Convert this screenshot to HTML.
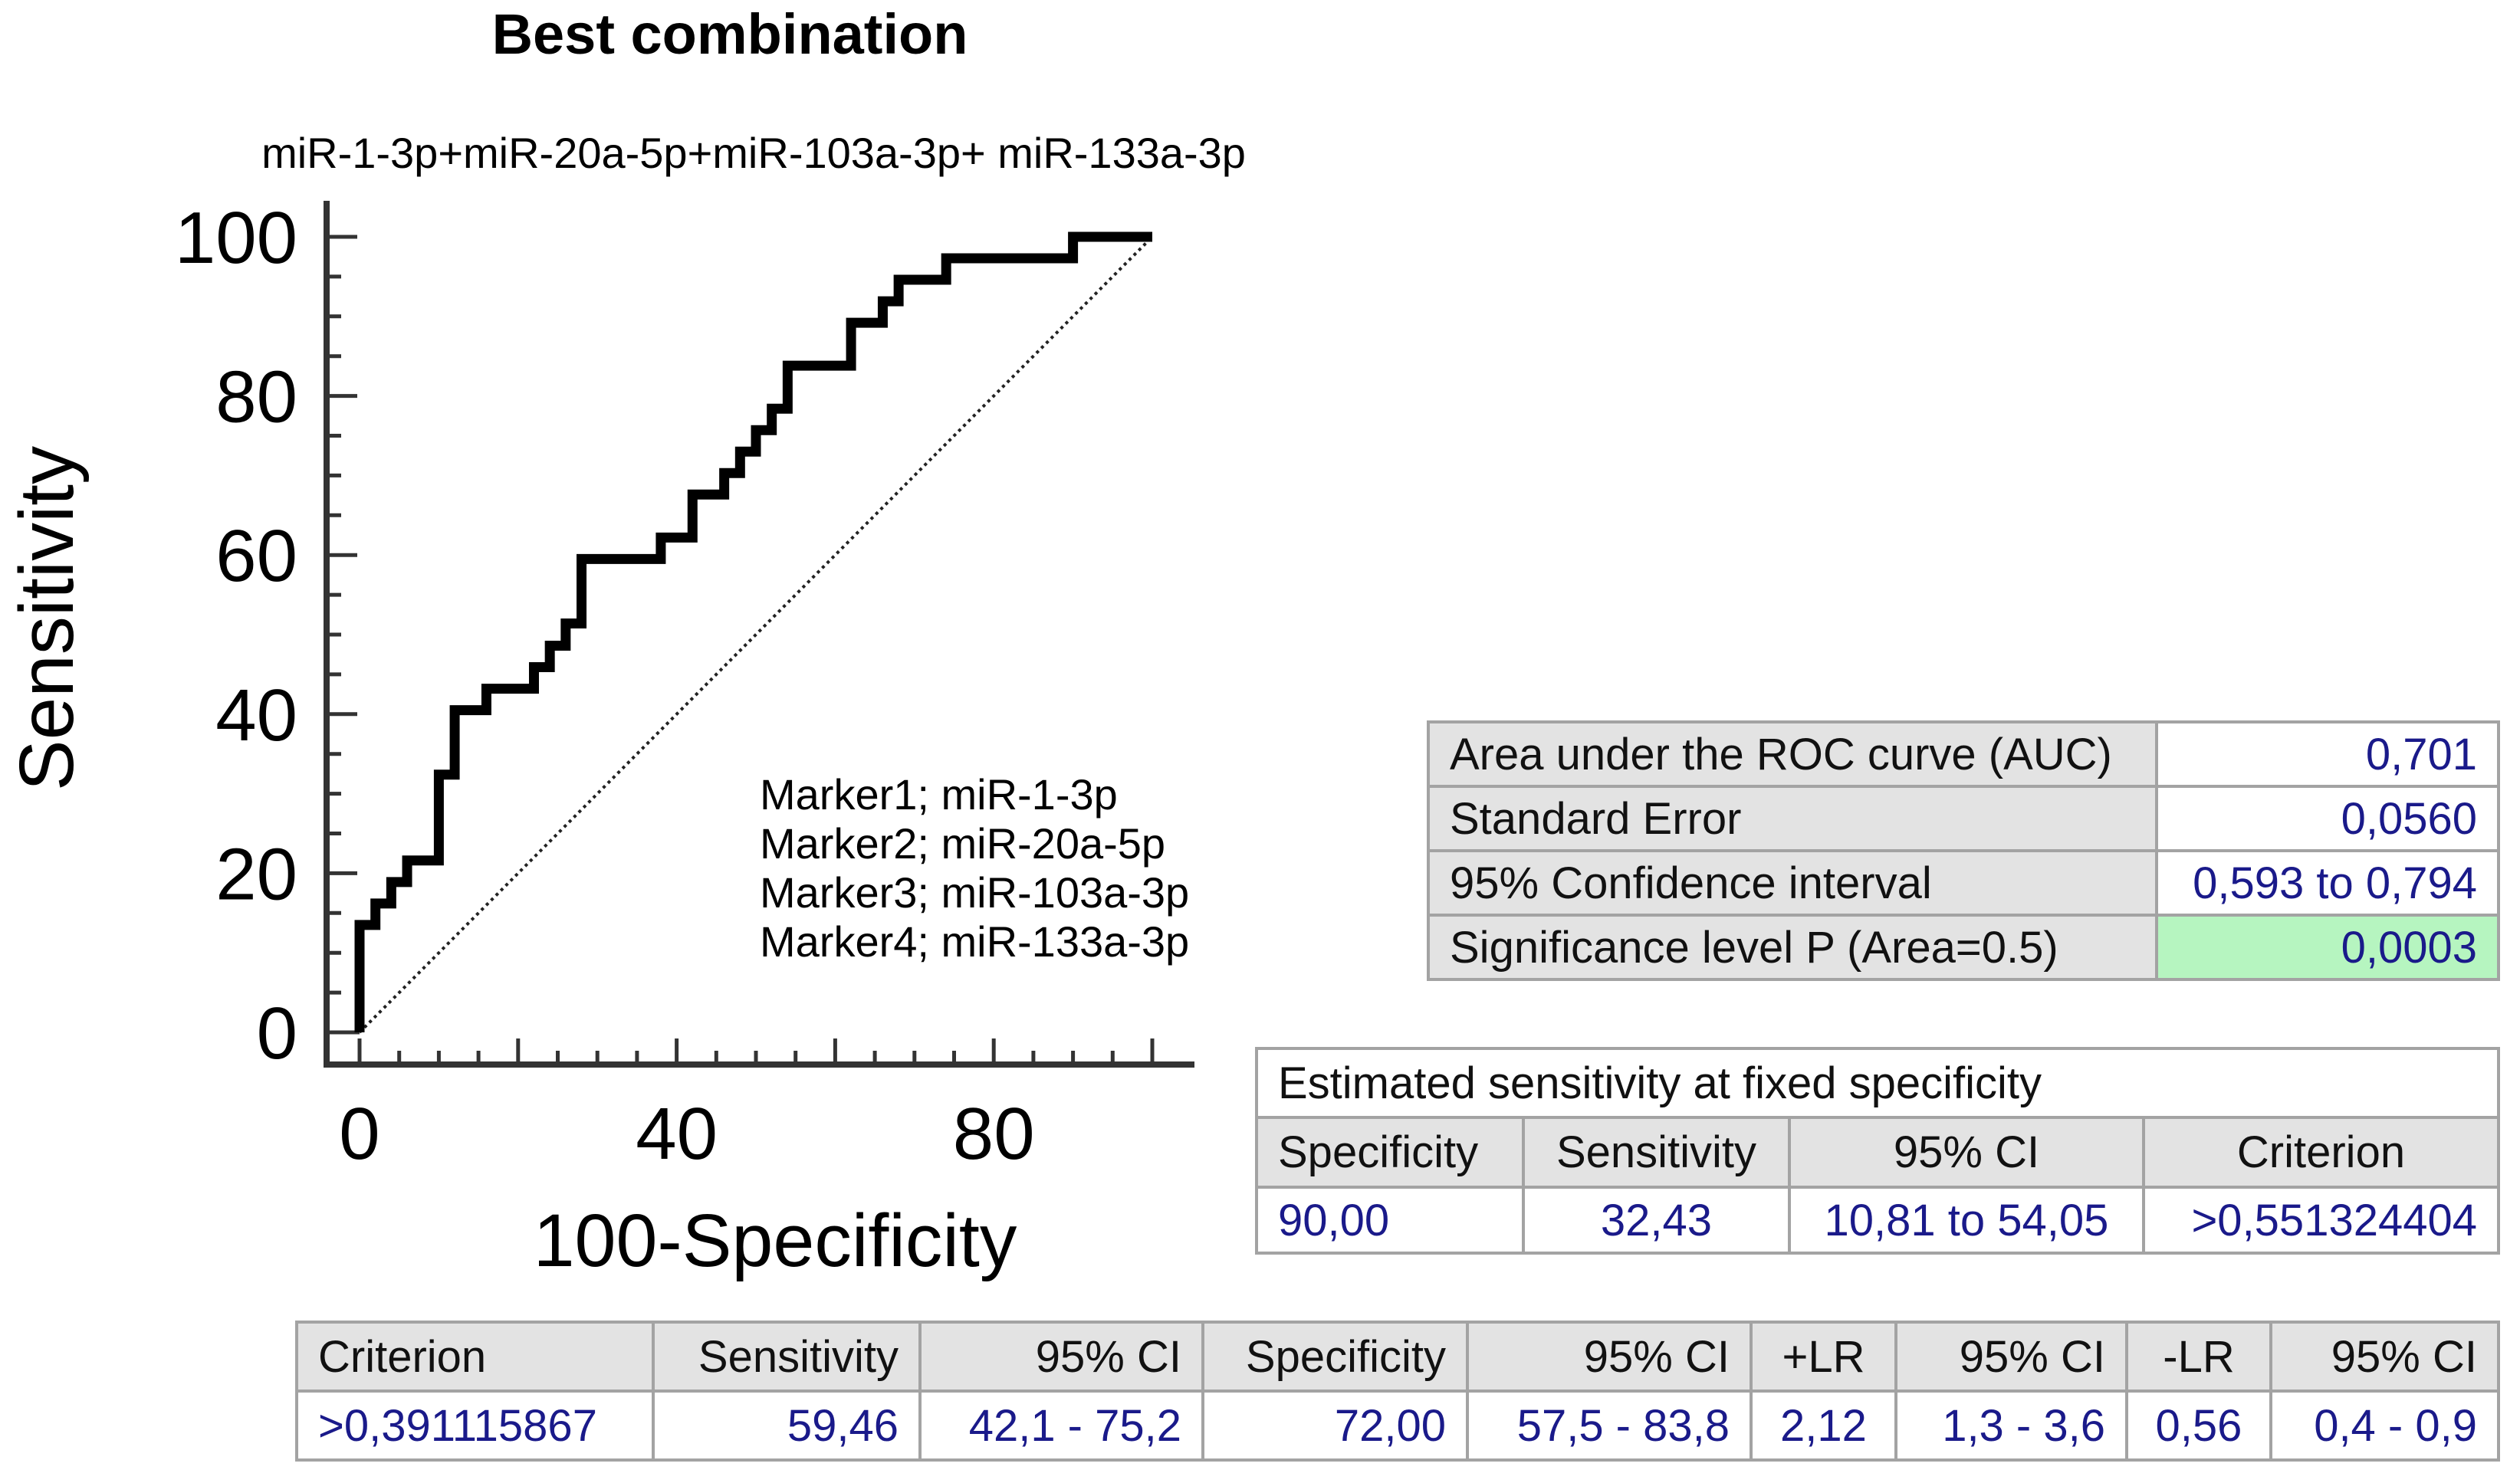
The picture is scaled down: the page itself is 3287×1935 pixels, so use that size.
<!DOCTYPE html>
<html><head><meta charset="utf-8">
<style>
body{margin:0;width:3287px;height:1935px;background:#fff;position:relative;overflow:hidden;font-family:"Liberation Sans",Arial,sans-serif;}
svg{position:absolute;left:0;top:0}
.c{position:absolute;box-sizing:border-box;border:4px solid #a3a3a3;display:flex;align-items:center;font-size:58px;white-space:nowrap;padding:0 26px;color:#111}
.h{background:#e3e3e3}
.v{background:#fff;color:#1a1a8a}
.l{justify-content:flex-start}.r{justify-content:flex-end}.m{justify-content:center}
</style></head><body>
<svg id="chart" width="3287" height="1935">
<text x="952" y="70" text-anchor="middle" font-size="74" font-weight="bold" font-family="Liberation Sans, sans-serif">Best combination</text>
<text x="983" y="219" text-anchor="middle" font-size="56" font-family="Liberation Sans, sans-serif">miR-1-3p+miR-20a-5p+miR-103a-3p+ miR-133a-3p</text>
<text transform="translate(95,807) rotate(-90)" text-anchor="middle" font-size="100" font-family="Liberation Sans, sans-serif">Sensitivity</text>
<text x="1011" y="1652" text-anchor="middle" font-size="97" font-family="Liberation Sans, sans-serif">100-Specificity</text>
<g font-size="56" font-family="Liberation Sans, sans-serif">
<text x="991" y="1056">Marker1; miR-1-3p</text>
<text x="991" y="1120">Marker2; miR-20a-5p</text>
<text x="991" y="1184">Marker3; miR-103a-3p</text>
<text x="991" y="1248">Marker4; miR-133a-3p</text>
</g>
</svg>

<!-- AUC table -->
<div class="c h l" style="left:1861px;top:940px;width:954px;height:88px">Area under the ROC curve (AUC)</div>
<div class="c v r" style="left:2811px;top:940px;width:450px;height:88px">0,701</div>
<div class="c h l" style="left:1861px;top:1024px;width:954px;height:88px">Standard Error</div>
<div class="c v r" style="left:2811px;top:1024px;width:450px;height:88px">0,0560</div>
<div class="c h l" style="left:1861px;top:1108px;width:954px;height:88px">95% Confidence interval</div>
<div class="c v r" style="left:2811px;top:1108px;width:450px;height:88px">0,593 to 0,794</div>
<div class="c h l" style="left:1861px;top:1192px;width:954px;height:88px">Significance level P (Area=0.5)</div>
<div class="c v r" style="left:2811px;top:1192px;width:450px;height:88px;background:#b6f5c0">0,0003</div>

<!-- fixed specificity table -->
<div class="c l" style="left:1637px;top:1366px;width:1624px;height:94px;background:#fff">Estimated sensitivity at fixed specificity</div>
<div class="c h l" style="left:1637px;top:1456px;width:352px;height:95px">Specificity</div>
<div class="c h m" style="left:1985px;top:1456px;width:351px;height:95px">Sensitivity</div>
<div class="c h m" style="left:2332px;top:1456px;width:466px;height:95px">95% CI</div>
<div class="c h m" style="left:2794px;top:1456px;width:467px;height:95px">Criterion</div>
<div class="c v l" style="left:1637px;top:1547px;width:352px;height:90px">90,00</div>
<div class="c v m" style="left:1985px;top:1547px;width:351px;height:90px">32,43</div>
<div class="c v m" style="left:2332px;top:1547px;width:466px;height:90px">10,81 to 54,05</div>
<div class="c v r" style="left:2794px;top:1547px;width:467px;height:90px">&gt;0,551324404</div>

<!-- criterion table -->
<div class="c h l" style="left:385px;top:1723px;width:469px;height:94px">Criterion</div>
<div class="c h r" style="left:850px;top:1723px;width:352px;height:94px">Sensitivity</div>
<div class="c h r" style="left:1198px;top:1723px;width:373px;height:94px">95% CI</div>
<div class="c h r" style="left:1567px;top:1723px;width:349px;height:94px">Specificity</div>
<div class="c h r" style="left:1912px;top:1723px;width:374px;height:94px">95% CI</div>
<div class="c h m" style="left:2282px;top:1723px;width:193px;height:94px">+LR</div>
<div class="c h r" style="left:2471px;top:1723px;width:305px;height:94px">95% CI</div>
<div class="c h m" style="left:2772px;top:1723px;width:192px;height:94px">-LR</div>
<div class="c h r" style="left:2960px;top:1723px;width:301px;height:94px">95% CI</div>
<div class="c v l" style="left:385px;top:1813px;width:469px;height:94px">&gt;0,391115867</div>
<div class="c v r" style="left:850px;top:1813px;width:352px;height:94px">59,46</div>
<div class="c v r" style="left:1198px;top:1813px;width:373px;height:94px">42,1 - 75,2</div>
<div class="c v r" style="left:1567px;top:1813px;width:349px;height:94px">72,00</div>
<div class="c v r" style="left:1912px;top:1813px;width:374px;height:94px">57,5 - 83,8</div>
<div class="c v m" style="left:2282px;top:1813px;width:193px;height:94px">2,12</div>
<div class="c v r" style="left:2471px;top:1813px;width:305px;height:94px">1,3 - 3,6</div>
<div class="c v m" style="left:2772px;top:1813px;width:192px;height:94px">0,56</div>
<div class="c v r" style="left:2960px;top:1813px;width:301px;height:94px">0,4 - 0,9</div>

<script>
const rocFpr = [0,0,2,2,4,4,6,6,10,10,12,12,16,16,22,22,24,24,26,26,28,28,38,38,42,42,46,46,48,48,50,50,52,52,54,54,62,62,66,66,68,68,74,74,90,90,100];
const rocTpr = [0,13.5,13.5,16.2,16.2,18.9,18.9,21.6,21.6,32.4,32.4,40.5,40.5,43.2,43.2,45.9,45.9,48.6,48.6,51.4,51.4,59.5,59.5,62.2,62.2,67.6,67.6,70.3,70.3,73.0,73.0,75.7,75.7,78.4,78.4,83.8,83.8,89.2,89.2,91.9,91.9,94.6,94.6,97.3,97.3,100,100];
const xTickLabels = [0,40,80];
const yTickLabels = [0,20,40,60,80,100];

const NS='http://www.w3.org/2000/svg';
const svg=document.getElementById('chart');
const X0=469,X1=1503,Y0=1347,Y1=309;
function sx(v){return X0+(X1-X0)*v/100;}
function sy(v){return Y0+(Y1-Y0)*v/100;}
function mk(tag,attrs){const e=document.createElementNS(NS,tag);for(const k in attrs)e.setAttribute(k,attrs[k]);svg.appendChild(e);return e;}

let ax=mk('line',{x1:426,y1:262,x2:426,y2:1393,stroke:'#333','stroke-width':8});


ax=mk('line',{x1:422,y1:1389,x2:1558,y2:1389,stroke:'#333','stroke-width':8});



for(let v=0;v<=100;v+=5){
  const major=v%20===0;
  const ty=mk('line',{x1:426,y1:sy(v),x2:426+(v===0?(X0-426):(major?40:19)),y2:sy(v),stroke:'#333','stroke-width':5});
  
  
  const tx=mk('line',{x1:sx(v),y1:1389,x2:sx(v),y2:1389-(major?34:18),stroke:'#333','stroke-width':5});
  
  
}
yTickLabels.forEach(v=>{
  const t=mk('text',{x:388,y:sy(v)+34,'text-anchor':'end','font-size':96,'font-family':'Liberation Sans, sans-serif'});
  t.textContent=v;
  
  
});
xTickLabels.forEach(v=>{
  const t=mk('text',{x:sx(v),y:1512,'text-anchor':'middle','font-size':96,'font-family':'Liberation Sans, sans-serif'});
  t.textContent=v;
  
  
});

const dg=mk('line',{x1:sx(0),y1:sy(0),x2:sx(100),y2:sy(100),stroke:'#222','stroke-width':4,'stroke-dasharray':'4 5'});



const pts=rocFpr.map((x,i)=>sx(x)+','+sy(rocTpr[i])).join(' ');
const roc=mk('polyline',{points:pts,fill:'none',stroke:'#000','stroke-width':13,'stroke-linejoin':'miter'});


</script>
</body></html>
